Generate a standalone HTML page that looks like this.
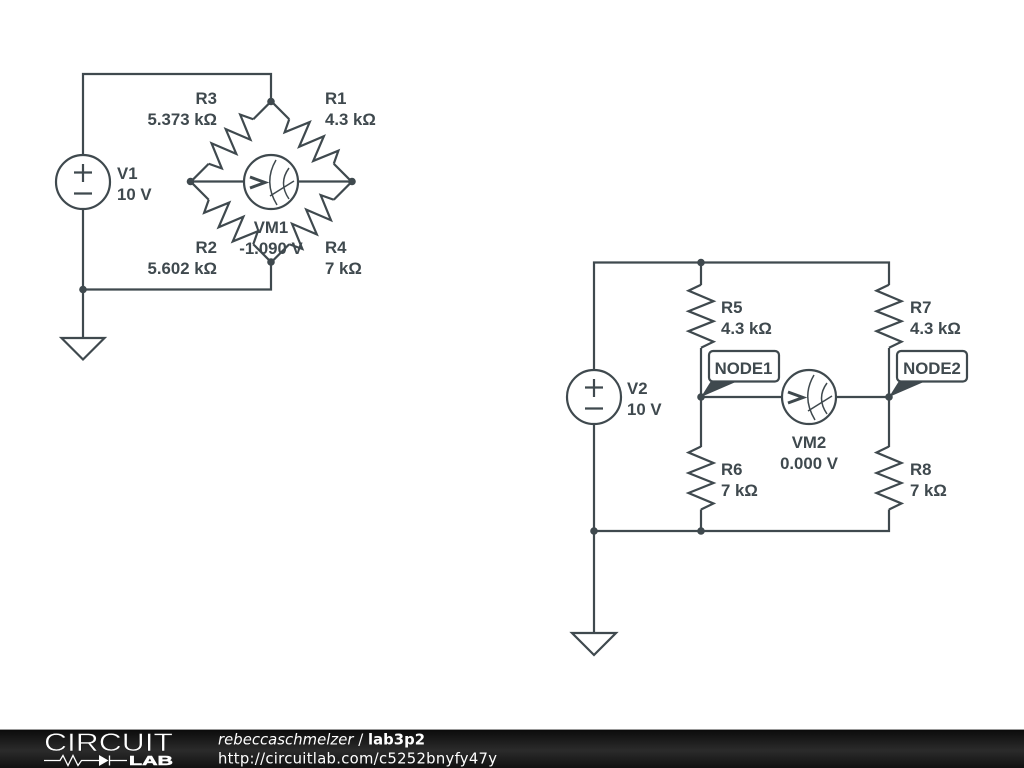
<!DOCTYPE html>
<html><head><meta charset="utf-8"><style>
html,body{margin:0;padding:0;background:#fff;width:1024px;height:768px;overflow:hidden}
svg{display:block;filter:blur(.35px)}
.w{fill:none;stroke:#3f494e;stroke-width:2.2;stroke-linejoin:miter}
.t{font-family:"Liberation Sans",sans-serif;font-weight:700;font-size:16.8px;fill:#3f494e}
.e{text-anchor:end}.m{text-anchor:middle}
.f{font-family:"DejaVu Sans",sans-serif;font-size:14.8px;fill:#fff}
</style></head><body>
<svg width="1024" height="768" viewBox="0 0 1024 768" xmlns="http://www.w3.org/2000/svg">
<defs>
<path id="r" class="w" d="M0-31.5 L-12.5-25.5 L12.5-15 L-12.5-5 L12.5 5 L-12.5 15 L12.5 25.5 L0 31.5"/>
<linearGradient id="g" x1="0" y1="0" x2="0" y2="1"><stop offset="0" stop-color="#0a0a0a"/><stop offset=".55" stop-color="#2b2b2b"/><stop offset="1" stop-color="#111"/></linearGradient>
<g id="vs"><circle class="w" r="27" style="fill:#fff"/><path class="w" d="M-9-9.5H9M0-18V0M-9 11.5H9"/></g>
<g id="vm"><circle class="w" style="fill:#fff" r="27"/>
<path class="w" style="stroke-width:3" d="M-21-5L-6 0.5L-21 6"/>
<path class="w" style="stroke-width:1.5" d="M5-22Q-8 0 6 23M18-14Q7 1 18 17M-1 14L23-1"/></g>
</defs>

<!-- left circuit -->
<path class="w" d="M83 155V74H271V101.5M83 209V338M83 289.5H271V262"/>
<path class="w" d="M61.5 338H104.5L83 359.5Z"/>
<use href="#vs" x="83" y="182"/>
<g transform="translate(231,141.5) rotate(45)"><path class="w" d="M0-57V-31.5"/><use href="#r"/><path class="w" d="M0 31.5V57"/></g>
<g transform="translate(311.5,141.5) rotate(-45)"><path class="w" d="M0-57V-31.5"/><use href="#r"/><path class="w" d="M0 31.5V57"/></g>
<g transform="translate(231,222) rotate(-45)"><path class="w" d="M0-57V-31.5"/><use href="#r"/><path class="w" d="M0 31.5V57"/></g>
<g transform="translate(311.5,222) rotate(45)"><path class="w" d="M0-57V-31.5"/><use href="#r"/><path class="w" d="M0 31.5V57"/></g>
<path class="w" d="M190 181.5H244M298 181.5H352"/>
<use href="#vm" x="271" y="182"/>
<g fill="#3f494e"><circle cx="271" cy="101.5" r="3.8"/><circle cx="190.5" cy="181.5" r="3.8"/><circle cx="352" cy="181.5" r="3.8"/><circle cx="271" cy="262" r="3.8"/><circle cx="83" cy="289.5" r="3.8"/></g>

<text class="t e" x="217" y="104">R3</text><text class="t e" x="217" y="125">5.373 kΩ</text>
<text class="t" x="325" y="104">R1</text><text class="t" x="325" y="125">4.3 kΩ</text>
<text class="t" x="117" y="179">V1</text><text class="t" x="117" y="200">10 V</text>
<text class="t m" x="271" y="233">VM1</text><text class="t m" x="271" y="254">-1.090 V</text>
<text class="t e" x="217" y="253">R2</text><text class="t e" x="217" y="274">5.602 kΩ</text>
<text class="t" x="325" y="253">R4</text><text class="t" x="325" y="274">7 kΩ</text>

<!-- right circuit -->
<path class="w" d="M594 370V262.5H889V285M889 348V447M889 509.5V531H594M594 424V633M701 262.5V285M701 348V447M701 509.5V531M701 397H782M836 397H889"/>
<path class="w" d="M572 633H616L594 655Z"/>
<use href="#vs" x="594" y="397"/>
<use href="#r" x="701" y="316.2"/><use href="#r" x="889" y="316.2"/>
<use href="#r" x="701" y="478"/><use href="#r" x="889" y="478"/>
<use href="#vm" x="809" y="397"/>
<g fill="#3f494e"><circle cx="701" cy="262.5" r="3.8"/><circle cx="701" cy="397" r="3.8"/><circle cx="889" cy="397" r="3.8"/><circle cx="701" cy="531" r="3.8"/><circle cx="594" cy="531" r="3.8"/>
<path d="M701 397L711 381H738Z"/><path d="M889 397L899 381H926Z"/></g>
<rect class="w" style="fill:#fff" x="709" y="351" width="70" height="30.5" rx="4"/>
<rect class="w" style="fill:#fff" x="897" y="351" width="70" height="30.5" rx="4"/>
<text class="t m" x="743.5" y="374">NODE1</text><text class="t m" x="932" y="374">NODE2</text>

<text class="t" x="721" y="313">R5</text><text class="t" x="721" y="334">4.3 kΩ</text>
<text class="t" x="910" y="313">R7</text><text class="t" x="910" y="334">4.3 kΩ</text>
<text class="t" x="721" y="475">R6</text><text class="t" x="721" y="496">7 kΩ</text>
<text class="t" x="910" y="475">R8</text><text class="t" x="910" y="496">7 kΩ</text>
<text class="t" x="627" y="394">V2</text><text class="t" x="627" y="415">10 V</text>
<text class="t m" x="809" y="448">VM2</text><text class="t m" x="809" y="469">0.000 V</text>

<!-- footer -->
<rect x="0" y="729" width="1024" height="39" fill="url(#g)"/>
<rect x="0" y="729" width="1024" height="1" fill="#999"/>
<text x="44" y="751" font-family="Liberation Sans,sans-serif" font-size="25" fill="#fff" stroke="#1a1a1a" stroke-width=".5" textLength="129" lengthAdjust="spacingAndGlyphs">CIRCUIT</text>
<path d="M44 760.5H60L63 755.5L68 765.5L73 755.5L78 765.5L81.5 760.5H99M109.5 760.5H127M109.5 755.5V765.5" fill="none" stroke="#fff" stroke-width="1.3"/>
<path d="M99 755L108.5 760.5L99 766Z" fill="#fff"/>
<text x="129" y="765" font-family="Liberation Sans,sans-serif" font-weight="700" font-size="13" fill="#fff" stroke="#fff" stroke-width=".5" textLength="44" lengthAdjust="spacingAndGlyphs">LAB</text>
<text class="f" x="218" y="744.5" textLength="207"><tspan font-style="italic">rebeccaschmelzer</tspan> / <tspan font-weight="700">lab3p2</tspan></text>
<text class="f" x="218" y="763.5" textLength="279">http://circuitlab.com/c5252bnyfy47y</text>
</svg>
</body></html>
